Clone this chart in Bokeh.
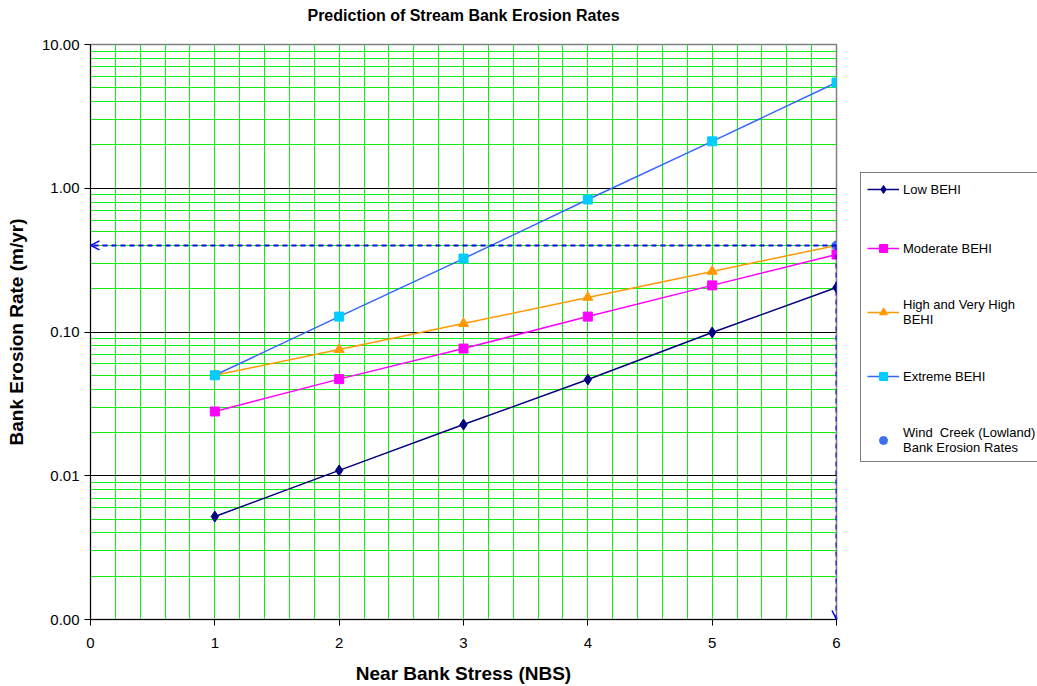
from bokeh.plotting import figure
from bokeh.models import (FixedTicker, PrintfTickFormatter, Arrow, OpenHead, Legend,
                          LegendItem, Range1d, Title)
from bokeh.embed import file_html
from bokeh.resources import INLINE

# ---- data ----
nbs = [1, 2, 3, 4, 5, 6]
low_behi = [0.0052, 0.0109, 0.0227, 0.0467, 0.0992, 0.204]
moderate_behi = [0.028, 0.047, 0.0767, 0.128, 0.211, 0.346]
high_behi = [0.050, 0.0755, 0.1146, 0.174, 0.264, 0.400]
extreme_behi = [0.050, 0.128, 0.324, 0.835, 2.12, 5.44]
wind_x = [6]
wind_y = [0.40]

x_ticks = [0, 1, 2, 3, 4, 5, 6]
y_ticks = [0.001, 0.01, 0.1, 1, 10]

FONT = "Liberation Sans"

p = figure(width=1037, height=686, frame_width=746, frame_height=575,
           y_axis_type="log", x_range=Range1d(0, 6), y_range=Range1d(0.001, 10),
           output_backend="svg", toolbar_location=None,
           min_border_left=90, min_border_right=201, min_border_top=44, min_border_bottom=67)
p.background_fill_color = "white"
p.border_fill_color = "white"
p.outline_line_color = "#808080"
p.outline_line_width = 1.5

# spacer (closest to frame) then the title
p.add_layout(Title(text=" ", text_font_size="15px", standoff=0), "above")
p.add_layout(Title(text="Prediction of Stream Bank Erosion Rates", align="center",
                   text_font=FONT, text_font_size="16px", text_font_style="bold",
                   text_color="black", standoff=0, vertical_align="top"), "above")

# grids
p.xgrid.ticker = FixedTicker(ticks=[round(0.2 * i, 1) for i in range(1, 30)])
p.xgrid.grid_line_color = "#11ee11"
p.xgrid.grid_line_width = 1
p.ygrid.ticker = FixedTicker(ticks=y_ticks[1:-1],
                             minor_ticks=[m * 10 ** e for e in range(-3, 1) for m in range(2, 10)])
p.ygrid.grid_line_color = "black"
p.ygrid.minor_grid_line_color = "#11ee11"

# axes
p.xaxis.ticker = FixedTicker(ticks=x_ticks)
p.yaxis.ticker = FixedTicker(ticks=y_ticks)
p.yaxis.formatter = PrintfTickFormatter(format="%.2f")
for ax in (p.xaxis[0], p.yaxis[0]):
    ax.axis_line_color = "black"
    ax.major_tick_line_color = "black"
    ax.major_tick_out = 6
    ax.major_tick_in = 0
    ax.minor_tick_line_color = None
    ax.major_label_text_font = FONT
    ax.major_label_text_font_size = "15px"
    ax.major_label_text_color = "black"
    ax.axis_label_text_font = FONT
    ax.axis_label_text_font_size = "19px"
    ax.axis_label_text_font_style = "bold"
    ax.axis_label_text_color = "black"
p.xaxis.axis_label = "Near Bank Stress (NBS)"
p.yaxis.axis_label = "Bank Erosion Rate (m/yr)"
p.xaxis.major_label_standoff = 12
p.xaxis.axis_label_standoff = 12
p.yaxis.major_label_standoff = 5
p.yaxis.axis_label_standoff = 12

# series
r1l = p.line(nbs, low_behi, line_color="#000080", line_width=1.5)
r1m = p.scatter(nbs, low_behi, marker="diamond", size=11, fill_color="#000080", line_color="#000080")
r2l = p.line(nbs, moderate_behi, line_color="#FF00FF", line_width=1.5)
r2m = p.scatter(nbs, moderate_behi, marker="square", size=9, fill_color="#FF00FF", line_color="#FF00FF")
r3l = p.line(nbs, high_behi, line_color="#FF9900", line_width=1.5)
r3m = p.scatter(nbs, high_behi, marker="triangle", size=10, fill_color="#FF9900", line_color="#FF9900")
r4l = p.line(nbs, extreme_behi, line_color="#3366FF", line_width=1.5)
r4m = p.scatter(nbs, extreme_behi, marker="square", size=9, fill_color="#00CCFF", line_color="#00CCFF")

# dashed reference lines with arrows
dash_col = "#0000EE"
p.add_layout(Arrow(end=OpenHead(size=9, line_color=dash_col, line_width=1.5),
                   x_start=wind_x[0], y_start=wind_y[0], x_end=x_ticks[0], y_end=wind_y[0],
                   line_color=dash_col, line_width=2, line_dash="5 4"))
p.add_layout(Arrow(end=OpenHead(size=9, line_color=dash_col, line_width=1.5),
                   x_start=wind_x[0], y_start=wind_y[0], x_end=wind_x[0], y_end=y_ticks[0],
                   line_color=dash_col, line_width=2, line_dash="5 4"))

r5 = p.scatter(wind_x, wind_y, marker="circle", size=9, fill_color="#3B6FF0", line_color="#3B6FF0")

legend = Legend(items=[
    LegendItem(label="Low BEHI", renderers=[r1l, r1m]),
    LegendItem(label="Moderate BEHI", renderers=[r2l, r2m]),
    LegendItem(label="High and Very High\nBEHI", renderers=[r3l, r3m]),
    LegendItem(label="Extreme BEHI", renderers=[r4l, r4m]),
    LegendItem(label="Wind  Creek (Lowland)\nBank Erosion Rates", renderers=[r5]),
], location=(24, 157))
legend.label_text_font = FONT
legend.label_text_font_size = "13px"
legend.label_text_color = "black"
legend.border_line_color = "black"
legend.border_line_width = 1
legend.background_fill_alpha = 1
legend.glyph_width = 32
legend.label_standoff = 4
legend.padding = 6
legend.spacing = 39
legend.margin = 0
p.add_layout(legend, "right")

open("out.html", "w").write(file_html(p, INLINE))
